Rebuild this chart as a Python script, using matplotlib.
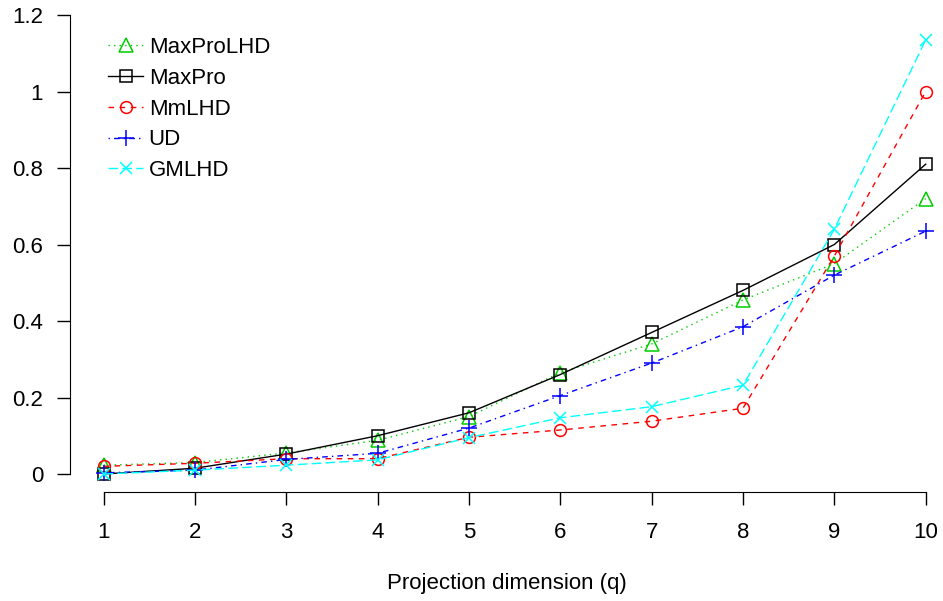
import numpy as np
import matplotlib
matplotlib.use("Agg")
import matplotlib.pyplot as plt

plt.rcParams['font.family'] = ['Liberation Sans', 'DejaVu Sans']

#data
q = [1, 2, 3, 4, 5, 6, 7, 8, 9, 10]
maxprolhd = [0.023, 0.030, 0.055, 0.088, 0.150, 0.265, 0.340, 0.455, 0.550, 0.720]
maxpro = [0.000, 0.015, 0.052, 0.100, 0.160, 0.260, 0.370, 0.480, 0.600, 0.810]
mmlhd = [0.020, 0.028, 0.040, 0.040, 0.096, 0.115, 0.138, 0.172, 0.570, 1.000]
ud = [0.003, 0.010, 0.038, 0.054, 0.120, 0.205, 0.290, 0.385, 0.520, 0.635]
gmlhd = [0.000, 0.010, 0.023, 0.037, 0.095, 0.147, 0.176, 0.232, 0.640, 1.135]

W, H = 943, 601
fig = plt.figure(figsize=(W/100, H/100), dpi=100)
#axes box in pixels: left spine x=70, bottom spine y=492
left, right, top, bottom = 70, 943, 5, 492
ax = fig.add_axes([left/W, 1-bottom/H, (right-left)/W, (bottom-top)/H])

px_x = (925.7-103.5)/9
px_y = (474-15)/1.2
ax.set_xlim(1-(103.5-left)/px_x, 10+(right-925.7)/px_x)
ax.set_ylim(-(bottom-474)/px_y, 1.2+(15-top)/px_y)

lw = 1.0
mew = 1.1
ax.plot(q, maxprolhd, color='#00CD00', ls=(0, (1, 3)), lw=lw, marker='^', ms=10,
        mfc='none', mew=mew, label='MaxProLHD', clip_on=False)
ax.plot(q, maxpro, color='black', ls='-', lw=lw, marker='s', ms=8,
        mfc='none', mew=mew, label='MaxPro', clip_on=False)
ax.plot(q, mmlhd, color='red', ls=(0, (4, 4)), lw=lw, marker='o', ms=8.5,
        mfc='none', mew=mew, label='MmLHD', clip_on=False)
ax.plot(q, ud, color='blue', ls=(0, (1, 3, 4, 3)), lw=lw, marker='+', ms=12,
        mfc='none', mew=mew, label='UD', clip_on=False)
ax.plot(q, gmlhd, color='cyan', ls=(0, (7, 3)), lw=lw, marker='x', ms=9,
        mfc='none', mew=mew, label='GMLHD', clip_on=False)

#R style axes
for s in ['top', 'right']:
    ax.spines[s].set_visible(False)
ax.spines['left'].set_bounds(0, 1.2)
ax.spines['bottom'].set_bounds(1, 10)
ax.set_xticks(q)
ax.set_xticklabels([str(v) for v in q])
yt = [0, 0.2, 0.4, 0.6, 0.8, 1.0, 1.2]
ax.set_yticks(yt)
ax.set_yticklabels(['0', '0.2', '0.4', '0.6', '0.8', '1', '1.2'])
ax.tick_params(axis='both', length=9.4, width=1, labelsize=16)
ax.tick_params(axis='y', pad=10)
ax.tick_params(axis='x', pad=12.5)
ax.set_xlabel('Projection dimension (q)', fontsize=16, labelpad=21)

ax.legend(loc='upper left', bbox_to_anchor=(108/W, 1-37/H), bbox_transform=fig.transFigure,
          frameon=False, fontsize=16, handlelength=1.58, handletextpad=0.25,
          labelspacing=0.44, borderaxespad=0, borderpad=0)

fig.savefig('out.png', dpi=100)
